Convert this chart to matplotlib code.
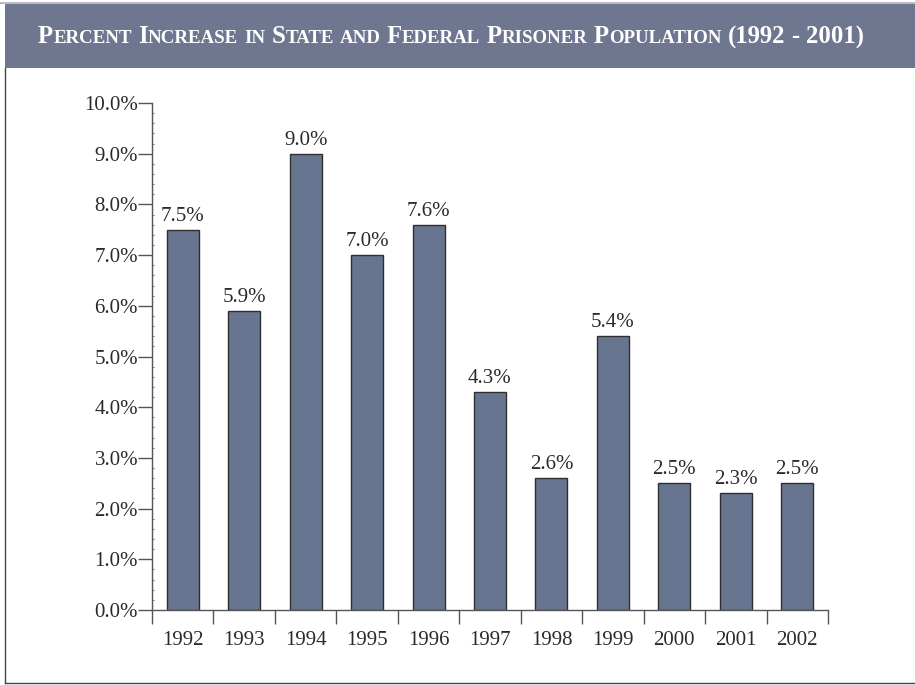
import matplotlib
matplotlib.use("Agg")
import matplotlib.pyplot as plt
from matplotlib.patches import Rectangle
from matplotlib.lines import Line2D
from matplotlib.offsetbox import TextArea, HPacker, AnnotationBbox
from matplotlib.ticker import MultipleLocator, FixedLocator

years = ["1992", "1993", "1994", "1995", "1996", "1997", "1998", "1999", "2000", "2001", "2002"]
values = [7.5, 5.9, 9.0, 7.0, 7.6, 4.3, 2.6, 5.4, 2.5, 2.3, 2.5]
title = "Percent Increase in State and Federal Prisoner Population (1992 - 2001)"

SERIF = ["Liberation Serif", "DejaVu Serif"]
BAR_COLOR = "#687590"
BANNER_COLOR = "#6f768f"
TXT = "#2a2a2a"

W, H = 915, 685
fig = plt.figure(figsize=(W / 100, H / 100), dpi=100)
fig.patch.set_facecolor("white")

# banner and frame
fig.patches.append(Rectangle((5 / W, 1 - 68 / H), 1 - 5 / W, 64 / H, transform=fig.transFigure,
                             facecolor=BANNER_COLOR, edgecolor="none", zorder=0))
fig.lines.append(Line2D([0, 1], [1 - 2.5 / H, 1 - 2.5 / H], transform=fig.transFigure, color="#b0b0b0", lw=1.2))
fig.lines.append(Line2D([5 / W, 5 / W], [1 - 68 / H, 1 - 683 / H], transform=fig.transFigure, color="#444444", lw=1.0))
fig.lines.append(Line2D([5 / W, 1], [1 - 683 / H, 1 - 683 / H], transform=fig.transFigure, color="#444444", lw=1.0))

# small-caps title
BIG, SMALL = 17.8, 13.6
words = []
for w in title.split(" "):
    parts = []
    cur, cur_big = "", None
    for ch in w:
        is_big = not ch.islower()
        if cur_big is None or is_big == cur_big:
            cur += ch.upper()
        else:
            parts.append((cur, cur_big))
            cur = ch.upper()
        cur_big = is_big
    parts.append((cur, cur_big))
    children = [TextArea(s, textprops=dict(fontsize=BIG if b else SMALL, fontweight="bold",
                                           family=SERIF, color="white")) for s, b in parts]
    words.append(HPacker(children=children, align="baseline", pad=0, sep=0))
title_box = HPacker(children=words, align="baseline", pad=0, sep=4.5)
ab = AnnotationBbox(title_box, (451 / W, 1 - 37 / H), xycoords="figure fraction",
                    frameon=False, box_alignment=(0.5, 0.5))
fig.add_artist(ab)

ax = fig.add_axes([152 / W, 1 - 610 / H, (828 - 152) / W, (610 - 103) / H])
x = list(range(len(years)))
bars = ax.bar(x, values, width=0.52, color=BAR_COLOR, edgecolor="#2e2e2e", linewidth=1.0, zorder=2)
for xi, v in zip(x, values):
    ax.annotate(f"{v:.1f}%", (xi, v), xytext=(0, 3), textcoords="offset points",
                ha="center", va="bottom", fontsize=15, family=SERIF, color=TXT)

ax.set_xlim(-0.5, len(years) - 0.5)
ax.set_ylim(0, 10)
for s in ["top", "right"]:
    ax.spines[s].set_visible(False)
for s in ["left", "bottom"]:
    ax.spines[s].set_color("#555555")
    ax.spines[s].set_linewidth(1.0)

ax.xaxis.set_major_locator(FixedLocator([i - 0.5 for i in range(len(years) + 1)]))
ax.xaxis.set_minor_locator(FixedLocator(x))
ax.set_xticklabels([""] * (len(years) + 1))
ax.set_xticks(x, minor=True)
ax.set_xticklabels(years, minor=True)
ax.tick_params(axis="x", which="major", direction="out", length=10, width=1.0, color="#555555")
ax.tick_params(axis="x", which="minor", length=0, pad=15, labelsize=15, labelcolor=TXT)

ax.yaxis.set_major_locator(MultipleLocator(1))
ax.yaxis.set_minor_locator(MultipleLocator(0.2))
ax.set_yticks([i for i in range(11)])
ax.set_yticklabels([f"{i:.1f}%" for i in range(11)])
ax.tick_params(axis="y", which="major", direction="out", length=10, width=1.0, color="#555555",
               pad=0, labelsize=15, labelcolor=TXT)
ax.tick_params(axis="y", which="minor", direction="in", length=1.5, width=0.8, color="#777777")
for lab in ax.get_xticklabels(minor=True) + ax.get_yticklabels():
    lab.set_family(SERIF)

fig.savefig("out.png", dpi=100, facecolor="white")
